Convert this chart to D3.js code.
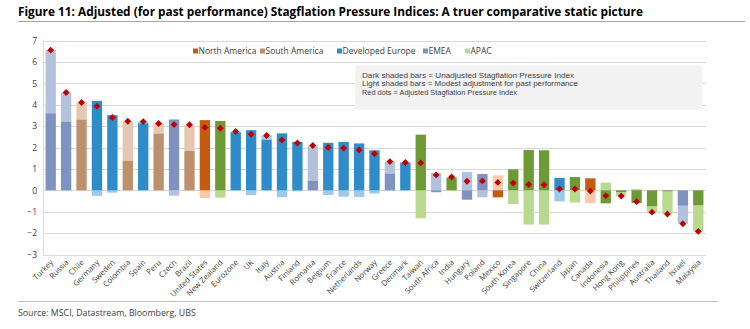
<!DOCTYPE html>
<html><head><meta charset="utf-8">
<script src="https://cdn.jsdelivr.net/npm/d3@7"></script>
<style>
body{margin:0;background:#fff;}
svg{display:block;font-family:"Open Sans","Noto Sans",sans-serif;}
</style></head>
<body><svg id="c" width="750" height="329"></svg>
<script>
const countries = ["Turkey","Russia","Chile","Germany","Sweden","Colombia","Spain","Peru","Czech","Brazil","United States","New Zealand","Eurozone","UK","Italy","Austria","Finland","Romania","Belgium","France","Netherlands","Norway","Greece","Denmark","Taiwan","South Africa","India","Hungary","Poland","Mexico","South Korea","Singapore","China","Switzerland","Japan","Canada","Indonesia","Hong Kong","Philippines","Australia","Thailand","Israel","Malaysia"];
const regions = ["EMEA","EMEA","SA","DE","DE","SA","DE","SA","EMEA","SA","NA","APAC","DE","DE","DE","DE","DE","EMEA","DE","DE","DE","DE","EMEA","DE","APAC","EMEA","APAC","EMEA","EMEA","NA","APAC","APAC","APAC","DE","APAC","NA","APAC","APAC","APAC","APAC","APAC","EMEA","APAC"];
const unadjusted = [3.6,3.2,3.3,4.18,3.51,1.38,3.13,2.65,3.31,1.84,3.28,3.24,2.71,2.81,2.36,2.66,2.26,0.45,2.22,2.26,2.19,1.87,0.78,1.28,2.6,-0.09,0.59,-0.44,0.76,-0.33,0.98,1.88,1.87,0.58,0.62,0.56,-0.61,-0.09,-0.59,-0.75,-0.05,-0.72,-0.7];
const adjustment = [2.95,1.37,0.8,-0.26,-0.11,1.85,0.08,0.47,-0.25,1.22,-0.36,-0.34,0.04,-0.22,0.2,-0.32,-0.05,1.64,-0.22,-0.3,-0.31,-0.15,0.56,0.03,-1.31,0.81,0.03,0.86,-0.33,0.7,-0.64,-1.6,-1.6,-0.52,-0.57,-0.6,0.36,-0.18,0.06,-0.27,-1.07,-0.84,-1.22];
const adjusted = [6.55,4.57,4.1,3.93,3.4,3.23,3.21,3.12,3.07,3.06,2.94,2.9,2.75,2.62,2.56,2.35,2.21,2.09,2.0,1.97,1.88,1.71,1.34,1.3,1.28,0.72,0.62,0.42,0.44,0.37,0.34,0.27,0.26,0.06,0.06,-0.03,-0.26,-0.27,-0.53,-1.02,-1.11,-1.56,-1.92];
const yTicks = [-3,-2,-1,0,1,2,3,4,5,6,7];
const legendKeys = ["NA","SA","DE","EMEA","APAC"];
const legendNames = ["North America","South America","Developed Europe","EMEA","APAC"];
const noteLines = ["Dark shaded bars  = Unadjusted Stagflation Pressure Index","Light shaded bars = Modest adjustment for past performance","Red dots = Adjusted Stagflation Pressure Index"];

const darkCol = {NA:"#C55A11",SA:"#BE916E",DE:"#2F8CC8",EMEA:"#7F93C1",APAC:"#6E9A35"};
const lightCol = {NA:"#F8CBAD",SA:"#E4C8B1",DE:"#9DCAEA",EMEA:"#B3C1DD",APAC:"#B9D98E"};
const legendCol = {NA:"#C55A11",SA:"#BE916E",DE:"#2F8CC8",EMEA:"#7F93C1",APAC:"#B9D98E"};

const svg = d3.select("#c");
const x = d3.scaleBand().domain(countries).range([43,706]).paddingInner(0.33).paddingOuter(0.165);
const y = d3.scaleLinear().domain([-3,7]).range([254.5,40.5]);

// title
svg.append("text").attr("x",18).attr("y",16).attr("font-size",12.5).attr("font-weight","bold")
  .attr("font-family","'Liberation Sans Narrow','Open Sans',sans-serif").attr("fill","#000")
  .attr("textLength",625).attr("lengthAdjust","spacingAndGlyphs")
  .text("Figure 11: Adjusted (for past performance) Stagflation Pressure Indices: A truer comparative static picture");
svg.append("line").attr("x1",18).attr("x2",745).attr("y1",21.5).attr("y2",21.5).attr("stroke","#A6A6A6").attr("stroke-width",1);

// grid
svg.append("g").selectAll("line").data(yTicks).join("line")
  .attr("x1",43).attr("x2",706).attr("y1",d=>Math.round(y(d))+0.5).attr("y2",d=>Math.round(y(d))+0.5)
  .attr("stroke","#D9D9D9").attr("stroke-width",1);
svg.append("line").attr("x1",43.5).attr("x2",43.5).attr("y1",y(7)).attr("y2",y(-3)).attr("stroke","#D9D9D9");

// y axis
const ya = svg.append("g").attr("transform","translate(43,0)").call(d3.axisLeft(y).tickValues(yTicks).tickSize(0).tickPadding(6));
ya.select(".domain").remove();
ya.selectAll("text").attr("font-size",8.5).attr("fill","#404040").attr("font-family","'Open Sans',sans-serif");

// note box
svg.append("rect").attr("x",355).attr("y",65.5).attr("width",347).attr("height",44).attr("fill","#F2F2F2");
const noteLen = [212,216,155];
svg.append("g").selectAll("text").data(noteLines).join("text")
  .attr("x",362).attr("y",(d,i)=>77.5+i*8.7).attr("font-size",7.6)
  .attr("font-family","'Liberation Sans',Arial,sans-serif")
  .attr("textLength",(d,i)=>noteLen[i]).attr("lengthAdjust","spacingAndGlyphs")
  .attr("fill","#404040").text(d=>d);

// legend
const legendX = [193,260,337,423,465];
const lg = svg.append("g").selectAll("g").data(legendKeys).join("g").attr("transform",(d,i)=>`translate(${legendX[i]},51)`);
lg.append("rect").attr("x",0).attr("y",-2.5).attr("width",5).attr("height",5).attr("fill",d=>legendCol[d]);
lg.append("text").attr("x",5.5).attr("y",3).attr("font-size",8.5).attr("fill","#404040").text((d,i)=>legendNames[i]);

// bars
const bars = svg.append("g");
countries.forEach((c,i)=>{
  const d = unadjusted[i], l = adjustment[i], r = regions[i];
  const lBase = (Math.sign(d)===Math.sign(l)) ? d : 0;
  bars.append("rect").attr("x",x(c)).attr("width",x.bandwidth())
    .attr("y",y(Math.max(lBase,lBase+l))).attr("height",Math.abs(y(lBase)-y(lBase+l)))
    .attr("fill",lightCol[r]);
  bars.append("rect").attr("x",x(c)).attr("width",x.bandwidth())
    .attr("y",y(Math.max(0,d))).attr("height",Math.abs(y(0)-y(d)))
    .attr("fill",darkCol[r]);
});

// dots
svg.append("g").selectAll("path").data(countries).join("path")
  .attr("transform",(c,i)=>`translate(${x(c)+x.bandwidth()/2},${y(adjusted[i])}) rotate(45)`)
  .attr("d",d3.symbol(d3.symbolSquare,24)).attr("fill","#C00000");

// x labels
svg.append("g").selectAll("text").data(countries).join("text")
  .attr("transform",c=>`translate(${x(c)+x.bandwidth()/2+3},263) rotate(-45)`)
  .attr("text-anchor","end").attr("font-size",7.8).attr("fill","#404040").text(c=>c);

// source
svg.append("line").attr("x1",18).attr("x2",718).attr("y1",301.5).attr("y2",301.5).attr("stroke","#BFBFBF");
svg.append("text").attr("x",18).attr("y",316).attr("font-size",8.8).attr("fill","#404040")
  .text("Source: MSCI, Datastream, Bloomberg, UBS");
</script></body></html>
